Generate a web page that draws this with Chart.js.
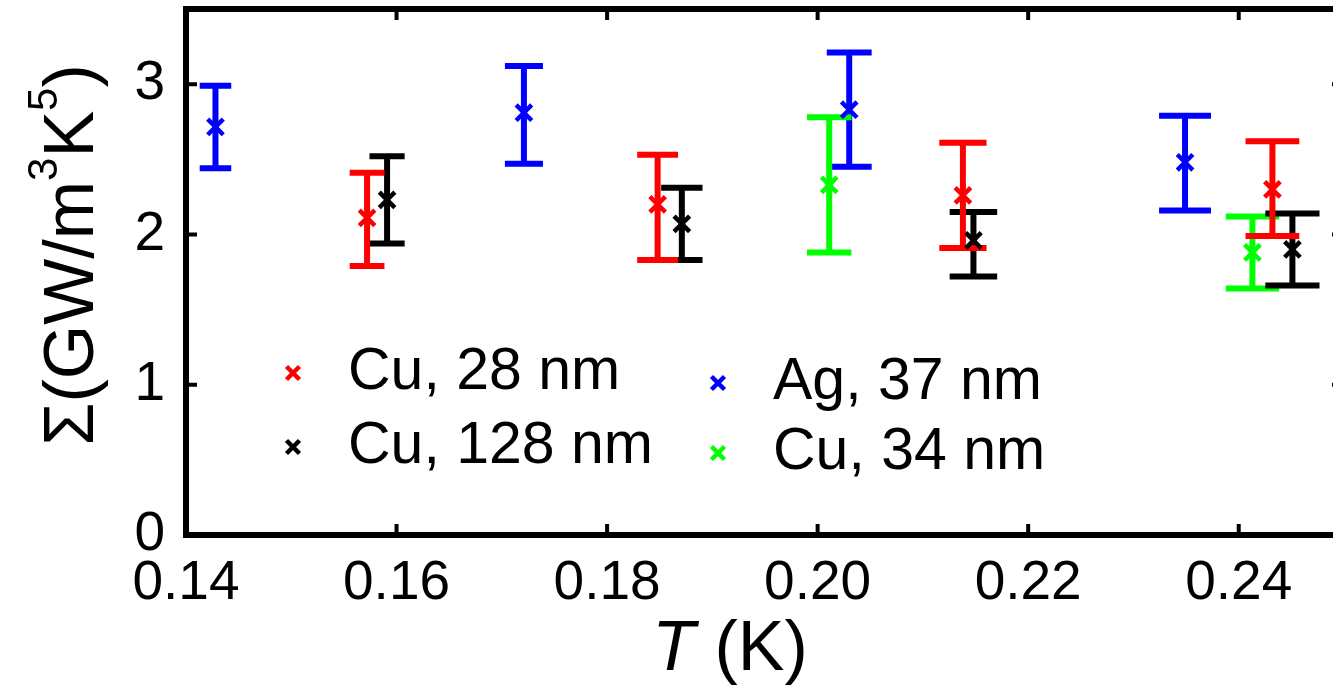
<!DOCTYPE html>
<html>
<head>
<meta charset="utf-8">
<script src="https://cdn.jsdelivr.net/npm/chart.js"></script>
<style>
  html, body { margin: 0; padding: 0; background: #fff; overflow: hidden; }
  canvas { display: block; }
</style>
</head>
<body>
<canvas id="grafico" width="1350" height="688"></canvas>
<script>
// dados (T em K, Sigma em GW/m^3K^5)
const cu28_T  = [0.1572, 0.1848, 0.2138, 0.2432];
const cu28_S  = [2.11, 2.20, 2.26, 2.30];
const cu28_hi = [2.41, 2.53, 2.61, 2.62];
const cu28_lo = [1.79, 1.83, 1.91, 1.99];

const cu128_T  = [0.1591, 0.1871, 0.2148, 0.2451];
const cu128_S  = [2.23, 2.07, 1.96, 1.90];
const cu128_hi = [2.52, 2.31, 2.15, 2.14];
const cu128_lo = [1.94, 1.83, 1.72, 1.66];

const ag37_T  = [0.1428, 0.1721, 0.2030, 0.2349];
const ag37_S  = [2.715, 2.81, 2.83, 2.48];
const ag37_hi = [2.99, 3.12, 3.21, 2.79];
const ag37_lo = [2.44, 2.47, 2.45, 2.16];

const cu34_T  = [0.2011, 0.2413];
const cu34_S  = [2.33, 1.88];
const cu34_hi = [2.78, 2.12];
const cu34_lo = [1.88, 1.64];

const xTicks = [0.14, 0.16, 0.18, 0.20, 0.22, 0.24];
const yTicks = [0, 1, 2, 3];

const fonte = "'Liberation Sans', Arial, sans-serif";

function pontos(xs, ys) {
  return xs.map((x, i) => ({ x: x, y: ys[i] }));
}

// largura da "perninha" proporcional a T, como na figura original
const capFrac = 0.0105;
const ordemBarras = [2, 3, 1, 0];

const barrasErro = {
  id: 'barrasErro',
  beforeDatasetsDraw(chart) {
    const ctx = chart.ctx;
    const xs = chart.scales.x, ys = chart.scales.y;
    ctx.save();
    ctx.lineWidth = 6;
    ctx.lineCap = 'butt';
    ordemBarras.forEach(i => {
      const ds = chart.data.datasets[i];
      ctx.strokeStyle = ds.borderColor;
      ds.data.forEach((p, j) => {
        const px = xs.getPixelForValue(p.x);
        const meia = xs.getPixelForValue(p.x * (1 + capFrac)) - px;
        const yHi = ys.getPixelForValue(ds.hi[j]);
        const yLo = ys.getPixelForValue(ds.lo[j]);
        ctx.beginPath();
        ctx.moveTo(px, yHi); ctx.lineTo(px, yLo);
        ctx.moveTo(px - meia, yHi); ctx.lineTo(px + meia, yHi);
        ctx.moveTo(px - meia, yLo); ctx.lineTo(px + meia, yLo);
        ctx.stroke();
      });
    });
    ctx.restore();
  }
};

function cruz(ctx, x, y, r, cor) {
  ctx.strokeStyle = cor;
  ctx.lineWidth = 4.5;
  ctx.beginPath();
  ctx.moveTo(x - r, y - r); ctx.lineTo(x + r, y + r);
  ctx.moveTo(x - r, y + r); ctx.lineTo(x + r, y - r);
  ctx.stroke();
}

const moldura = {
  id: 'moldura',
  afterDraw(chart) {
    const ctx = chart.ctx;
    const a = chart.chartArea;
    const xs = chart.scales.x, ys = chart.scales.y;
    ctx.save();
    // caixa dos eixos
    ctx.strokeStyle = '#000';
    ctx.lineWidth = 6;
    ctx.strokeRect(a.left, a.top, a.right - a.left, a.bottom - a.top);
    // ticks para dentro
    ctx.lineWidth = 4;
    ctx.beginPath();
    xs.ticks.forEach(t => {
      const px = xs.getPixelForValue(t.value);
      ctx.moveTo(px, a.bottom); ctx.lineTo(px, a.bottom - 11);
      ctx.moveTo(px, a.top); ctx.lineTo(px, a.top + 11);
    });
    ys.ticks.forEach(t => {
      const py = ys.getPixelForValue(t.value);
      ctx.moveTo(a.left, py); ctx.lineTo(a.left + 11, py);
      ctx.moveTo(a.right, py); ctx.lineTo(a.right - 12, py);
    });
    ctx.stroke();

    // legenda
    const itens = [
      { ds: 0, x: 293, y: 373 },
      { ds: 2, x: 718, y: 383 },
      { ds: 1, x: 293, y: 447 },
      { ds: 3, x: 718, y: 453 }
    ];
    ctx.font = '59px ' + fonte;
    ctx.textBaseline = 'middle';
    ctx.textAlign = 'left';
    ctx.fillStyle = '#000';
    itens.forEach(it => {
      const ds = chart.data.datasets[it.ds];
      cruz(ctx, it.x, it.y, 6.5, ds.borderColor);
      ctx.fillText(ds.label, it.x + 55, it.y);
    });

    // titulo eixo x: T (K)
    ctx.textBaseline = 'alphabetic';
    ctx.font = 'italic 70px ' + fonte;
    const wT = ctx.measureText('T').width;
    ctx.font = '70px ' + fonte;
    const wK = ctx.measureText(' (K)').width;
    let x0 = 730 - (wT + wK) / 2;
    ctx.font = 'italic 70px ' + fonte;
    ctx.fillText('T', x0, 670);
    ctx.font = '70px ' + fonte;
    ctx.fillText(' (K)', x0 + wT, 670);

    // titulo eixo y: Σ(GW/m³K⁵)
    const partes = [
      { t: 'Σ(GW/m', sup: false },
      { t: '3', sup: true },
      { t: 'K', sup: false },
      { t: '5', sup: true },
      { t: ')', sup: false }
    ];
    let total = 0;
    partes.forEach(p => {
      ctx.font = (p.sup ? '42px ' : '70px ') + fonte;
      p.w = ctx.measureText(p.t).width;
      total += p.w;
    });
    ctx.translate(93, 255);
    ctx.rotate(-Math.PI / 2);
    let cx = -total / 2;
    partes.forEach(p => {
      ctx.font = (p.sup ? '42px ' : '70px ') + fonte;
      ctx.fillText(p.t, cx, p.sup ? -36 : 0);
      cx += p.w;
    });
    ctx.restore();
  }
};

function semPadding(s) {
  s.paddingTop = 0;
  s.paddingBottom = 0;
  s.paddingLeft = 0;
  s.paddingRight = 0;
}

const grafico = document.getElementById('grafico');

new Chart(grafico, {
  type: 'scatter',
  data: {
    datasets: [{
      label: 'Cu, 28 nm',
      data: pontos(cu28_T, cu28_S),
      hi: cu28_hi, lo: cu28_lo,
      borderColor: '#ff0000',
      backgroundColor: '#ff0000'
    },
    {
      label: 'Cu, 128 nm',
      data: pontos(cu128_T, cu128_S),
      hi: cu128_hi, lo: cu128_lo,
      borderColor: '#000000',
      backgroundColor: '#000000'
    },
    {
      label: 'Ag, 37 nm',
      data: pontos(ag37_T, ag37_S),
      hi: ag37_hi, lo: ag37_lo,
      borderColor: '#0000ff',
      backgroundColor: '#0000ff'
    },
    {
      label: 'Cu, 34 nm',
      data: pontos(cu34_T, cu34_S),
      hi: cu34_hi, lo: cu34_lo,
      borderColor: '#00ff00',
      backgroundColor: '#00ff00'
    }]
  },
  options: {
    responsive: false,
    animation: false,
    layout: { autoPadding: false, padding: { top: 9, right: 6, left: 0, bottom: 0 } },
    elements: {
      point: { pointStyle: 'crossRot', radius: 11, borderWidth: 4.5, hoverRadius: 11 }
    },
    plugins: {
      legend: { display: false },
      tooltip: { enabled: false }
    },
    scales: {
      x: {
        type: 'linear',
        min: 0.14,
        max: 0.25,
        grid: { display: false },
        border: { display: false },
        afterBuildTicks(s) { s.ticks = xTicks.map(v => ({ value: v })); },
        afterFit(s) { s.height = 153; semPadding(s); },
        ticks: {
          color: '#000',
          padding: 8,
          maxRotation: 0,
          autoSkip: false,
          font: { size: 55, family: fonte },
          callback: v => v.toFixed(2)
        }
      },
      y: {
        type: 'linear',
        min: 0,
        max: 3.5,
        grid: { display: false },
        border: { display: false },
        afterBuildTicks(s) { s.ticks = yTicks.map(v => ({ value: v })); },
        afterFit(s) { s.width = 186; semPadding(s); },
        ticks: {
          color: '#000',
          padding: 13,
          font: { size: 55, family: fonte },
          callback: v => String(v)
        }
      }
    }
  },
  plugins: [barrasErro, moldura]
});
</script>
</body>
</html>
